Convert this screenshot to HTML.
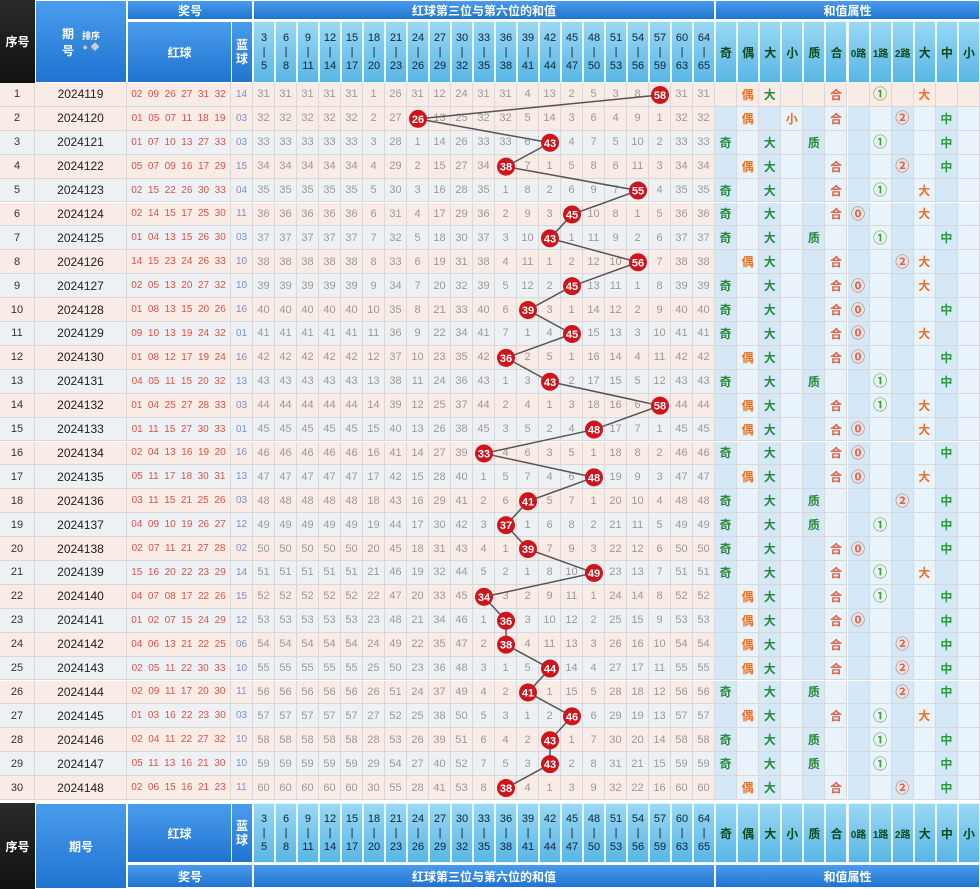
<!DOCTYPE html>
<html><head><meta charset="utf-8">
<style>
body{margin:0;width:980px;height:888px;overflow:hidden;background:#fff;font-family:"Liberation Sans","Noto Sans CJK SC",sans-serif;}
#root{position:absolute;left:0;top:0;width:980px;height:888px;}
.c{position:absolute;box-sizing:border-box;display:flex;align-items:center;justify-content:center;text-align:center;overflow:hidden;}
.dark{background:linear-gradient(#2a2a2a,#111);color:#fff;font-weight:bold;font-size:12px;}
.blue{background:linear-gradient(#4a9cec,#1f74d0);color:#fff;font-weight:bold;font-size:12px;border:1px solid #fff;}
.lb{background:linear-gradient(#9ad8f4,#58b6e4);color:#123;font-size:11px;line-height:14px;border:1px solid #e8f6ff;}
.ab{background:linear-gradient(#9ad8f4,#58b6e4);color:#0d4a1a;font-weight:bold;font-size:12px;border:1px solid #e8f6ff;}
.d{font-size:11px;color:#999;border-right:1px solid #d8d8d8;border-bottom:1px solid #d8d8d8;}
</style></head><body>
<div id="root">
<svg id="lines" width="980" height="888" style="position:absolute;left:0;top:0;z-index:2;pointer-events:none"></svg>
</div>
<script>
const periods=["2024119","2024120","2024121","2024122","2024123","2024124","2024125","2024126","2024127","2024128","2024129","2024130","2024131","2024132","2024133","2024134","2024135","2024136","2024137","2024138","2024139","2024140","2024141","2024142","2024143","2024144","2024145","2024146","2024147","2024148"];
const redBalls=["02 09 26 27 31 32","01 05 07 11 18 19","01 07 10 13 27 33","05 07 09 16 17 29","02 15 22 26 30 33","02 14 15 17 25 30","01 04 13 15 26 30","14 15 23 24 26 33","02 05 13 20 27 32","01 08 13 15 20 26","09 10 13 19 24 32","01 08 12 17 19 24","04 05 11 15 20 32","01 04 25 27 28 33","01 11 15 27 30 33","02 04 13 16 19 20","05 11 17 18 30 31","03 11 15 21 25 26","04 09 10 19 26 27","02 07 11 21 27 28","15 16 20 22 23 29","04 07 08 17 22 26","01 02 07 15 24 29","04 06 13 21 22 25","02 05 11 22 30 33","02 09 11 17 20 30","01 03 16 22 23 30","02 04 11 22 27 32","05 11 13 16 21 30","02 06 15 16 21 23"];
const blueBalls=["14","03","03","15","04","11","03","10","10","16","01","16","13","03","01","16","13","03","12","02","14","15","12","06","10","11","03","10","10","11"];
const sums=[58,26,43,38,55,45,43,56,45,39,45,36,43,58,48,33,48,41,37,39,49,34,36,38,44,41,46,43,43,38];
const rangeLow=[3,6,9,12,15,18,21,24,27,30,33,36,39,42,45,48,51,54,57,60,64];
const rangeHigh=[5,8,11,14,17,20,23,26,29,32,35,38,41,44,47,50,53,56,59,63,65];
const initOmit=[30,30,30,30,30,0,25,30,11,23,30,30,3,12,1,4,2,7,0,30,30];
const attrLabels=["奇","偶","大","小","质","合","0路","1路","2路","大","中","小"];

const root=document.getElementById('root');
const svg=document.getElementById('lines');
function cell(x,y,w,h,cls,html,name){
  const e=document.createElement('div');
  e.className='c '+cls;
  e.style.cssText+=`left:${x}px;top:${y}px;width:${w}px;height:${h}px;`;
  e.innerHTML=html;
  
  
  root.appendChild(e);return e;
}
const gx0=253,cw=22,ax0=715,aw=265/12,y0=83,rh=23.9;
function colX(i){return gx0+i*cw;}
function rowY(r){return y0+r*rh;}
function colOf(s){for(let i=0;i<rangeLow.length;i++){if(s>=rangeLow[i]&&s<=rangeHigh[i])return i;}return 0;}
function isPrime(n){if(n<2)return false;for(let i=2;i*i<=n;i++)if(n%i==0)return false;return true;}

function headers(top,h,gTop,gH,footer){
  cell(0,footer?top:0,35,footer?86:83,'dark','序号','serial-header');
  cell(35,footer?top:0,92,footer?86:83,'blue',footer?'期号':'<span>期<br>号</span><span style="font-size:9px;margin-left:8px;line-height:11px">排序<br><span style="color:#ccc">● ◆</span></span>','period-header');
  cell(127,gTop,126,gH,'blue','奖号','prize-group-header');
  cell(127,top,105,h,'blue','红球','red-ball-header');
  cell(231,top,22,h,'blue','<span style="line-height:14px">蓝<br>球</span>','blue-ball-header');
  cell(253,gTop,462,gH,'blue','红球第三位与第六位的和值','sum-group-header');
  for(let i=0;i<rangeLow.length;i++)cell(colX(i),top,cw,h,'lb',`${rangeLow[i]}<br>|<br>${rangeHigh[i]}`,'range-header-'+rangeLow[i]);
  cell(715,gTop,265,gH,'blue','和值属性','attr-group-header');
  for(let i=0;i<12;i++)cell(ax0+i*aw,top,aw,h,'ab',`<span style="font-size:${attrLabels[i].length>1?10:12}px">${attrLabels[i]}</span>`,'attr-header-'+i);
}
headers(21,62,0,20,false);
headers(803,60,864,24,true);

let omit=initOmit.slice();
const pts=[];
for(let r=0;r<sums.length;r++){
  const y=rowY(r),pink=(r%2==1)||r==0;
  const bg=pink?'#f9ebe6':'#eef1f4';
  cell(0,y,35,rh,'d',''+(r+1),'serial-'+(r+1)).style.cssText+=`background:${bg};color:#333;`;
  cell(35,y,92,rh,'d',periods[r],'period-'+periods[r]).style.cssText+=`background:${bg};color:#222;font-size:12px;`;
  cell(127,y,104,rh,'d',redBalls[r].split(' ').join('&nbsp;&nbsp;'),'red-balls-'+(r+1)).style.cssText+=`background:${bg};color:#e0504a;font-size:10px;`;
  cell(231,y,22,rh,'d',blueBalls[r],'blue-ball-'+(r+1)).style.cssText+=`background:${bg};color:#7a90c8;font-size:10px;`;
  const hc=colOf(sums[r]);
  for(let i=0;i<rangeLow.length;i++){
    if(i==hc)omit[i]=0;else omit[i]++;
    const e=cell(colX(i),y,cw,rh,'d',i==hc?'':''+omit[i],'omit-cell');
    e.style.background=bg;
  }
  const cx=colX(hc)+cw/2,cy=y+rh/2;
  pts.push([cx,cy]);
  const s=sums[r];
  const vals=[s%2==1?'奇':'',s%2==0?'偶':'',s>=33?'大':'',s<33?'小':'',isPrime(s)?'质':'',!isPrime(s)?'合':'',s%3==0?'⓪':'',s%3==1?'①':'',s%3==2?'②':'',s>=45?'大':'',(s>=22&&s<45)?'中':'',s<22?'小':''];
  const cols=['#2a8a3a','#f07020','#2a8a3a','#f07020','#2a8a3a','#e06040','#f06030','#4aa030','#f06030','#f07020','#2a9a3a','#f07020'];
  for(let i=0;i<12;i++){
    const abg=r==0?'#f9ebe6':(i%2==0?'#d5e8f7':'#e9f3fb');
    const e=cell(ax0+i*aw,y,aw,rh,'d',vals[i],'attr-'+attrLabels[i]+'-'+(r+1));
    e.style.cssText+=`background:${abg};color:${cols[i]};font-weight:bold;font-size:${i>=6&&i<=8?14:12}px;`;
  }
}
const NS='http://www.w3.org/2000/svg';
const pl=document.createElementNS(NS,'polyline');
pl.setAttribute('points',pts.map(p=>p.join(',')).join(' '));
pl.setAttribute('fill','none');pl.setAttribute('stroke','#555');pl.setAttribute('stroke-width','1.5');


svg.appendChild(pl);
pts.forEach((p,r)=>{
  const g=document.createElementNS(NS,'g');
  
  
  const c=document.createElementNS(NS,'circle');
  c.setAttribute('cx',p[0]);c.setAttribute('cy',p[1]);c.setAttribute('r',9);c.setAttribute('fill','#d0141c');
  const t=document.createElementNS(NS,'text');
  t.setAttribute('x',p[0]);t.setAttribute('y',p[1]+4);t.setAttribute('text-anchor','middle');
  t.setAttribute('font-size','11');t.setAttribute('font-weight','bold');t.setAttribute('fill','#fff');
  t.setAttribute('font-family','Liberation Sans, sans-serif');
  t.textContent=sums[r];
  g.appendChild(c);g.appendChild(t);svg.appendChild(g);
});
</script>
</body></html>
